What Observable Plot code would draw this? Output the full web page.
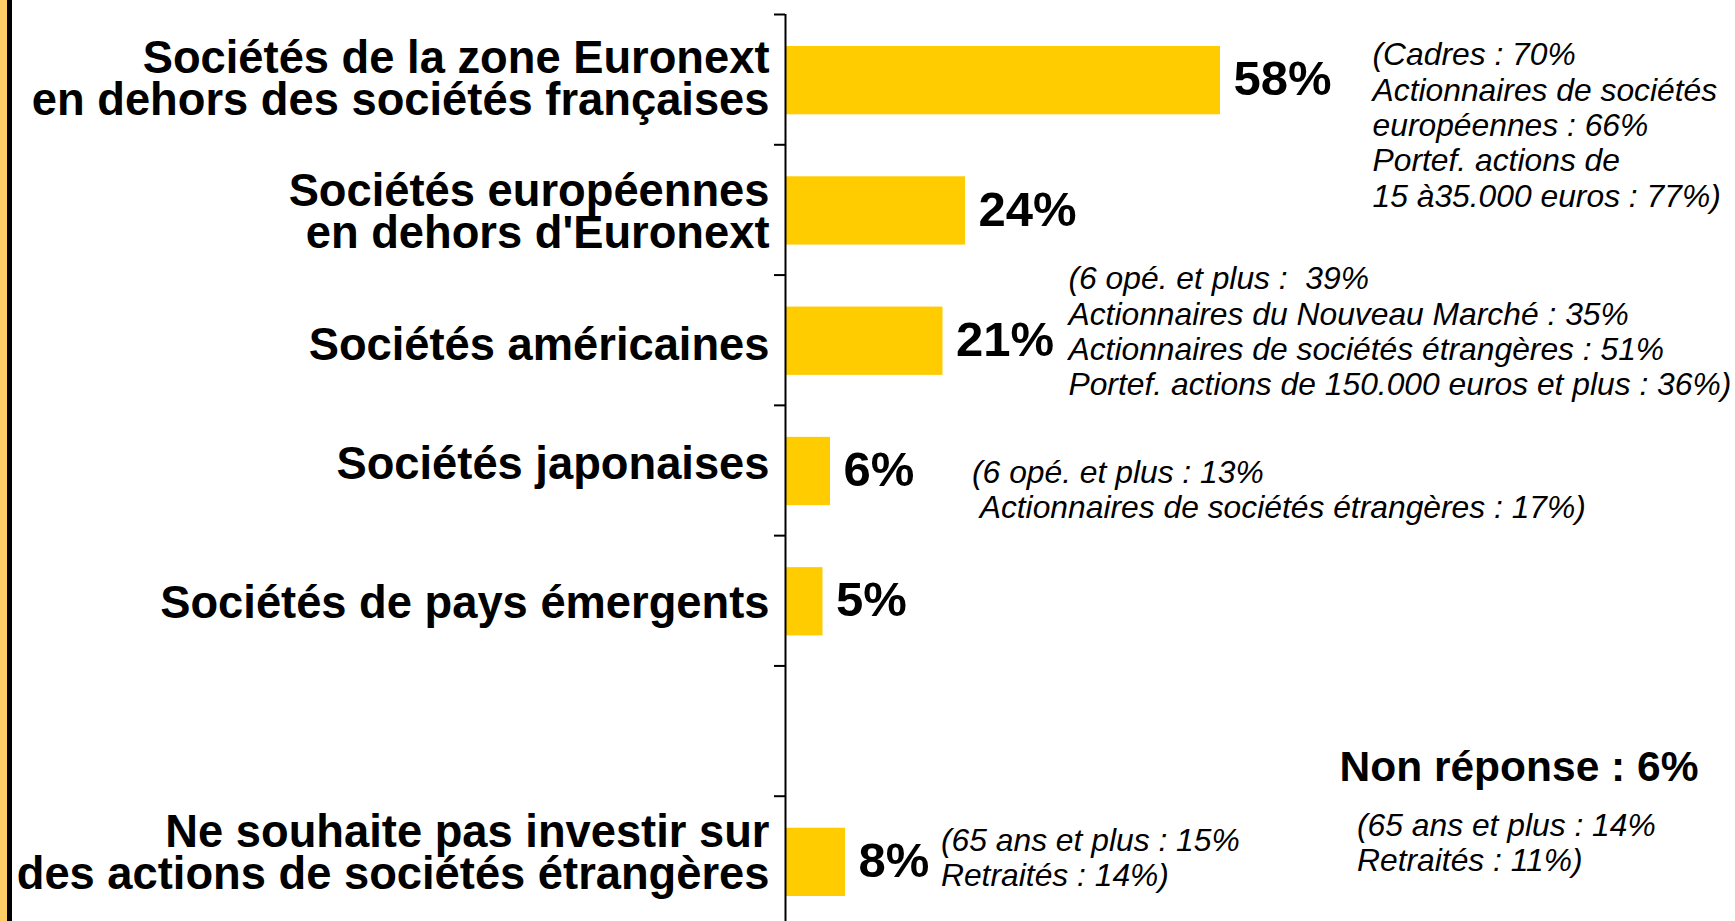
<!DOCTYPE html>
<html>
<head>
<meta charset="utf-8">
<script src="https://cdn.jsdelivr.net/npm/d3@7"></script>
<script src="https://cdn.jsdelivr.net/npm/@observablehq/plot@0.6"></script>
<style>
  html, body { margin: 0; padding: 0; background: #ffffff; }
  #wrap { position: relative; width: 1735px; height: 921px; overflow: hidden; }
  #wrap svg text { white-space: pre; }
  .edge-orange { position: absolute; left: 0; top: 0; width: 7px; height: 921px; background: #FFCC66; }
  .edge-black { position: absolute; left: 7px; top: 0; width: 5px; height: 921px; background: #000000; }
</style>
</head>
<body>
<div id="wrap"><div class="edge-orange"></div><div class="edge-black"></div></div>
<script>
// ---- data ----
const categories = [
  "Sociétés de la zone Euronext\nen dehors des sociétés françaises",
  "Sociétés européennes\nen dehors d'Euronext",
  "Sociétés américaines",
  "Sociétés japonaises",
  "Sociétés de pays émergents",
  "",
  "Ne souhaite pas investir sur\ndes actions de sociétés étrangères"
];
const values = [58, 24, 21, 6, 5, null, 8];

const notes = [
  "(Cadres : 70%\nActionnaires de sociétés\neuropéennes : 66%\nPortef. actions de\n15 à35.000 euros : 77%)",
  "(6 opé. et plus :  39%\nActionnaires du Nouveau Marché : 35%\nActionnaires de sociétés étrangères : 51%\nPortef. actions de 150.000 euros et plus : 36%)",
  "(6 opé. et plus : 13%\n Actionnaires de sociétés étrangères : 17%)",
  "(65 ans et plus : 15%\nRetraités : 14%)"
];
const nonResponseLabel = "Non réponse : 6%";
const nonResponseNote = "(65 ans et plus : 14%\nRetraités : 11%)";

// ---- layout (scale units: x = %, y = row) ----
const labelShift = [0.008, 0.025, 0.05, -0.042, 0.025, 0, -0.05];
const noteX = [78.27, 37.73, 24.87, 20.73];
const noteY = [0.198, 1.918, 3.405, 6.228];
const nrPos = {x: 73.87, y: 5.652};
const nrNotePos = {x: 76.2, y: 6.112};

// ---- build tables ----
const rows = categories.map((label, i) => ({i, label, value: values[i]}));
const bars = rows.filter(d => d.value != null);
const noteRows = notes.map((text, k) => ({text, x: noteX[k], y: noteY[k]}));

const font = "Liberation Sans, Arial, Helvetica, sans-serif";

const chart = Plot.plot({
  width: 1735,
  height: 921,
  marginLeft: 785,
  marginTop: 14,
  marginBottom: 0,
  marginRight: 0,
  x: {domain: [0, 100], range: [785, 1535], axis: null},
  y: {domain: [0, 7], range: [14, 926], axis: null},
  style: {fontFamily: font, background: "transparent", overflow: "visible"},
  marks: [
    Plot.rect(bars, {
      x1: d => 0, x2: "value", y1: "i", y2: d => d.i + 1,
      insetTop: 32, insetBottom: 30, fill: "#FFCC00"
    }),
    Plot.ruleX([0], {stroke: "#000", strokeWidth: 2}),
    Plot.axisY({
      ticks: d3.range(0, 8), tickSize: 11, tickFormat: () => "",
      stroke: "#000", strokeWidth: 2, strokeOpacity: 1, label: null
    }),
    Plot.text(rows.filter(d => d.label), {
      x: d => 0, y: d => d.i + 0.5 + labelShift[d.i], text: "label",
      textAnchor: "end", dx: -16, lineAnchor: "middle",
      fontSize: 45.3, fontWeight: "bold", lineHeight: 0.93,
      fill: "#000", fontFamily: font
    }),
    Plot.text(bars, {
      x: "value", y: d => d.i + 0.5, text: d => d.value + "%",
      textAnchor: "start", dx: 13, lineAnchor: "middle",
      fontSize: 49, fontWeight: "bold", fill: "#000", fontFamily: font
    }),
    Plot.text(noteRows, {
      x: "x", y: "y", text: "text",
      textAnchor: "start", lineAnchor: "top",
      fontSize: 31.8, fontStyle: "italic", lineHeight: 1.11,
      fill: "#000", fontFamily: font
    }),
    Plot.text([nonResponseLabel], {
      x: () => nrPos.x, y: () => nrPos.y, text: d => d,
      textAnchor: "start", lineAnchor: "top",
      fontSize: 42.5, fontWeight: "bold", fill: "#000", fontFamily: font
    }),
    Plot.text([nonResponseNote], {
      x: () => nrNotePos.x, y: () => nrNotePos.y, text: d => d,
      textAnchor: "start", lineAnchor: "top",
      fontSize: 31.8, fontStyle: "italic", lineHeight: 1.11,
      fill: "#000", fontFamily: font
    })
  ]
});
chart.style.position = "absolute";
chart.style.left = "0";
chart.style.top = "0";
document.getElementById("wrap").appendChild(chart);
</script>
</body>
</html>
